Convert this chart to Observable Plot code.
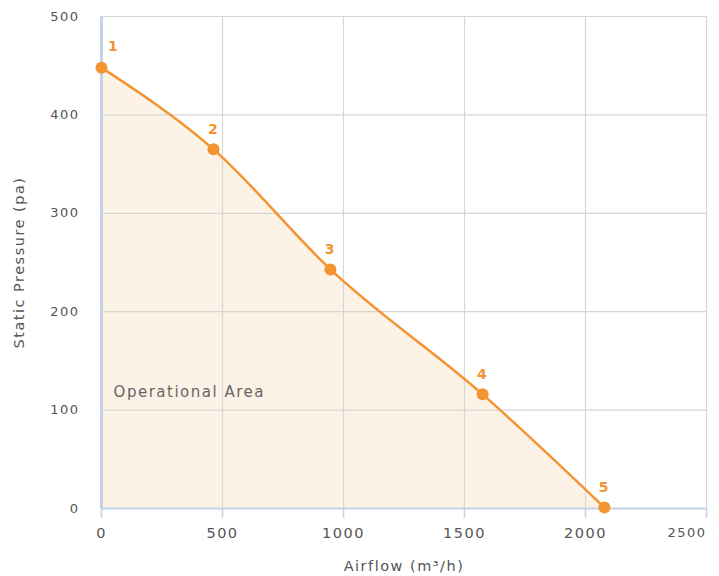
<!DOCTYPE html>
<html>
<head>
<meta charset="utf-8">
<script src="https://cdn.jsdelivr.net/npm/d3@7"></script>
<script src="https://cdn.jsdelivr.net/npm/@observablehq/plot@0.6"></script>
<style>
  html, body { margin: 0; padding: 0; background: #fff; }
  #chart svg text { letter-spacing: 1.5px; }
</style>
</head>
<body>
<div id="chart"></div>
<script>
const airflow = [0, 463, 946, 1575, 2078];
const pressure = [448, 365, 243, 116, 1];
const pointLabels = ["1", "2", "3", "4", "5"];
const xTicks = [0, 500, 1000, 1500, 2000];
const xLastTick = [2500];
const yTicks = [0, 100, 200, 300, 400, 500];
const areaLabel = ["Operational Area"];

const data = airflow.map((x, i) => ({x, y: pressure[i], label: pointLabels[i]}));
const orange = "#f39331";
const gray = "#555";
const fmt = d => String(d);

const chart = Plot.plot({
  width: 719,
  height: 576,
  marginLeft: 101,
  marginRight: 13,
  marginTop: 16,
  marginBottom: 68,
  style: {fontFamily: "'DejaVu Sans', sans-serif", fontSize: "13px", color: gray, background: "#fff"},
  x: {domain: [0, 2500]},
  y: {domain: [0, 500]},
  marks: [
    Plot.areaY(data, {x: "x", y: "y", curve: "monotone-x", fill: "#fcf2e6"}),
    Plot.gridX(xTicks.concat(xLastTick), {stroke: "#d6d6d6", strokeOpacity: 1, strokeWidth: 1.2}),
    Plot.gridY(yTicks, {stroke: "#d6d6d6", strokeOpacity: 1, strokeWidth: 1.2}),
    Plot.ruleY([0], {stroke: "#c2d3e8", strokeWidth: 2}),
    Plot.ruleX([0], {stroke: "#c2d3e8", strokeWidth: 3}),
    Plot.axisX(xTicks, {
      tickSize: 10, stroke: "#c2d3e8", strokeWidth: 1.5, tickPadding: 9,
      fill: gray, fontSize: 13, tickFormat: fmt,
      label: "Airflow (m³/h)", labelAnchor: "center", labelArrow: "none", labelOffset: 62, fontSize: 14.5
    }),
    Plot.axisX(xLastTick, {
      tickSize: 10, stroke: "#c2d3e8", strokeWidth: 1.5, tickPadding: 9,
      fill: gray, fontSize: 13, tickFormat: fmt, textAnchor: "end", label: null
    }),
    Plot.axisY(yTicks, {
      tickSize: 0, tickPadding: 22, fill: gray, fontSize: 13, tickFormat: fmt, label: null
    }),
    Plot.axisY({
      ticks: [], tickSize: 0, fill: gray, fontSize: 14.5,
      label: "Static Pressure (pa)", labelAnchor: "center", labelArrow: "none", labelOffset: 88
    }),
    Plot.text(areaLabel, {x: 50, y: 118, text: d => d, textAnchor: "start", fill: "#666", fontSize: 15}),
    Plot.line(data, {x: "x", y: "y", curve: "monotone-x", stroke: orange, strokeWidth: 2.5}),
    Plot.dot(data, {x: "x", y: "y", r: 6, fill: orange}),
    Plot.text(data.slice(0, 1), {x: "x", y: "y", text: "label", dx: 12, dy: -21, fill: orange, fontWeight: "bold", fontSize: 14}),
    Plot.text(data.slice(1), {x: "x", y: "y", text: "label", dy: -20, fill: orange, fontWeight: "bold", fontSize: 14})
  ]
});
document.getElementById("chart").appendChild(chart);
</script>
</body>
</html>
